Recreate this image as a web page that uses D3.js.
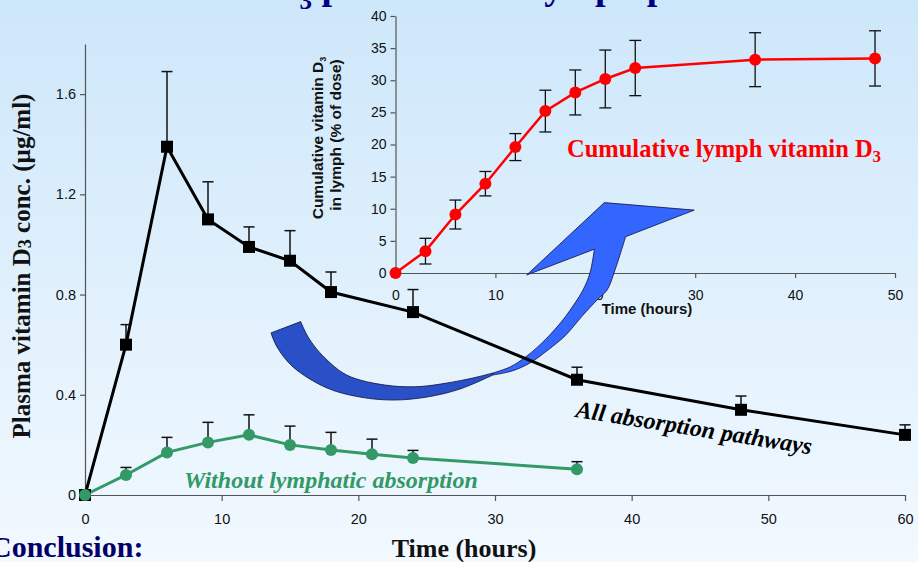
<!DOCTYPE html>
<html><head><meta charset="utf-8">
<script src="https://cdn.jsdelivr.net/npm/d3@7"></script>
<style>html,body{margin:0;padding:0;overflow:hidden;background:#e2f1fd}</style>
</head><body>
<svg id="c" width="918" height="562"></svg>
<script>
// ---------------- data ----------------
const mainTimes = [0, 3, 6, 9, 12, 15, 18, 24, 36, 48, 60];
const allPathways = [0, 0.60, 1.39, 1.10, 0.99, 0.935, 0.81, 0.73, 0.46, 0.34, 0.24];
const allPathwaysErr = [0, 0.08, 0.30, 0.15, 0.08, 0.12, 0.08, 0.09, 0.05, 0.055, 0.04];

const noLymphTimes = [0, 3, 6, 9, 12, 15, 18, 21, 24, 36];
const noLymph = [0, 0.08, 0.17, 0.21, 0.24, 0.20, 0.18, 0.163, 0.148, 0.103];
const noLymphErr = [0, 0.03, 0.06, 0.08, 0.08, 0.075, 0.07, 0.06, 0.03, 0.03];

const lymphTimes = [0, 3, 6, 9, 12, 15, 18, 21, 24, 36, 48];
const lymphCum = [0, 3.4, 9.1, 13.9, 19.6, 25.2, 28.1, 30.2, 31.9, 33.2, 33.4];
const lymphErr = [0, 2.0, 2.25, 1.9, 2.1, 3.25, 3.5, 4.5, 4.3, 4.2, 4.3];

const mainXTicks = [0, 10, 20, 30, 40, 50, 60];
const mainYTicks = [0, 0.4, 0.8, 1.2, 1.6];
const insetXTicks = [0, 10, 20, 30, 40, 50];
const insetYTicks = [0, 5, 10, 15, 20, 25, 30, 35, 40];

// curved block arrow outline, in main-chart units (hours, µg/ml)
const arrowBackUpper = [[15.78,0.692],[16.32,0.631],[17.20,0.567],[18.88,0.487],[20.12,0.459],[22.54,0.435],[24.51,0.433],[26.49,0.447],[28.39,0.467],[29.85,0.487]];
const arrowBackLower = [[13.61,0.647],[14.05,0.591],[15.22,0.511],[17.71,0.427],[20.12,0.391],[22.54,0.379],[25.02,0.391],[27.44,0.423],[29.85,0.479]];
const arrowFrontLeft = [[29.85,0.487],[31.10,0.511],[32.34,0.555],[33.66,0.619],[34.90,0.694],[35.85,0.766],[36.44,0.818],[36.95,0.886],[37.27,0.981]];
const arrowFrontRight = [[29.85,0.479],[31.24,0.495],[32.56,0.527],[33.88,0.579],[35.12,0.635],[36.44,0.718],[37.46,0.778],[38.20,0.818],[38.78,0.898],[39.56,1.031]];
const arrowHead = [[32.32,0.878],[38.00,1.167],[44.58,1.137]];

// ---------------- drawing ----------------
const W = 918, H = 562;
const SERIF = "'Liberation Serif','Times New Roman',serif";
const SANS = "'Liberation Sans',Arial,sans-serif";
const svg = d3.select('#c');
const defs = svg.append('defs');
const grad = defs.append('linearGradient').attr('id','bg').attr('x1',0).attr('y1',0).attr('x2',0).attr('y2',1);
grad.append('stop').attr('offset','0%').attr('stop-color','#cde7fa');
grad.append('stop').attr('offset','100%').attr('stop-color','#f2f9ff');
svg.append('rect').attr('width',W).attr('height',H).attr('fill','url(#bg)');

// title (cut off at the top: only descenders show)
const title = svg.append('text').attr('x',131).attr('y',-1.5)
  .attr('font-family',SERIF).attr('font-weight','bold').attr('font-size',38).attr('fill','#000080');
title.append('tspan').text('Vitamin D');
title.append('tspan').attr('font-size',25).attr('dy',10.5).text('3');
title.append('tspan').attr('dy',-10.5).text(' passes to the lymph pool');

function styleAxis(sel, fs, col){
  sel.attr('font-family',SANS).attr('font-size',fs);
  sel.selectAll('path.domain').attr('stroke',col).attr('stroke-width',1.2);
  sel.selectAll('.tick line').attr('stroke',col).attr('stroke-width',1.2);
  sel.selectAll('.tick text').attr('fill','#111');
}

// ---------- inset ----------
const ix = d3.scaleLinear().domain([0,50]).range([395.5,895]);
const iy = d3.scaleLinear().domain([0,40]).range([273,16]);
const inset = svg.append('g');
inset.append('g').attr('transform',`translate(${ix(0)},0)`)
  .call(d3.axisLeft(iy).tickValues(insetYTicks).tickSize(5).tickSizeOuter(0).tickPadding(4))
  .call(s=>styleAxis(s,14,'#555'));
inset.append('g').attr('transform',`translate(0,${iy(0)})`)
  .call(d3.axisBottom(ix).tickValues(insetXTicks).tickSize(5).tickSizeOuter(0).tickPadding(12))
  .call(s=>styleAxis(s,14,'#555'));

const yl1 = inset.append('text').attr('transform','translate(323,138) rotate(-90)')
  .attr('text-anchor','middle').attr('font-family',SANS).attr('font-weight','bold').attr('font-size',15.5).attr('fill','#111');
yl1.append('tspan').text('Cumulative vitamin D');
yl1.append('tspan').attr('font-size',9).attr('dy',3).text('3');
inset.append('text').attr('transform','translate(341,135) rotate(-90)')
  .attr('text-anchor','middle').attr('font-family',SANS).attr('font-weight','bold').attr('font-size',15.5).attr('fill','#111')
  .text('in lymph (% of dose)');
inset.append('text').attr('x',647).attr('y',314).attr('text-anchor','middle')
  .attr('font-family',SANS).attr('font-weight','bold').attr('font-size',15).attr('fill','#111').text('Time (hours)');

const lymphPts = lymphTimes.map((t,i)=>({t, v:lymphCum[i], e:lymphErr[i]}));
const ebI = inset.append('g').attr('stroke','#111').attr('stroke-width',1.3);
lymphPts.filter(d=>d.e>0).forEach(d=>{
  const x = ix(d.t);
  ebI.append('line').attr('x1',x).attr('x2',x).attr('y1',iy(d.v-d.e)).attr('y2',iy(d.v+d.e));
  ebI.append('line').attr('x1',x-6).attr('x2',x+6).attr('y1',iy(d.v+d.e)).attr('y2',iy(d.v+d.e));
  ebI.append('line').attr('x1',x-6).attr('x2',x+6).attr('y1',iy(d.v-d.e)).attr('y2',iy(d.v-d.e));
});
inset.append('path').datum(lymphPts)
  .attr('d',d3.line().x(d=>ix(d.t)).y(d=>iy(d.v)))
  .attr('fill','none').attr('stroke','#ff0000').attr('stroke-width',2.5);
inset.selectAll('circle.l').data(lymphPts).join('circle')
  .attr('cx',d=>ix(d.t)).attr('cy',d=>iy(d.v)).attr('r',6).attr('fill','#ff0000');

const redLab = svg.append('text').attr('x',567).attr('y',157)
  .attr('font-family',SERIF).attr('font-weight','bold').attr('font-size',24.5).attr('fill','#ff0000');
redLab.append('tspan').text('Cumulative lymph vitamin D');
redLab.append('tspan').attr('font-size',17).attr('dy',5).text('3');

// ---------- main scales ----------
const mx = d3.scaleLinear().domain([0,60]).range([85,905]);
const my = d3.scaleLinear().domain([0,1.8]).range([495,44]);

// ---------- arrow ----------
const lc = d3.line().x(d=>mx(d[0])).y(d=>my(d[1])).curve(d3.curveCatmullRom.alpha(0.5));
const lin = pts => pts.map(p=>'L'+mx(p[0])+','+my(p[1])).join('');
const backD = lc(arrowBackUpper) + lc(arrowBackLower.slice().reverse()).replace(/^M/,'L') + 'Z';
const frontD = lc(arrowFrontLeft) + lin(arrowHead) + lc(arrowFrontRight.slice().reverse()).replace(/^M/,'L') + 'Z';
svg.append('path').attr('d',backD).attr('fill','#2a50c8').attr('stroke','#10103a').attr('stroke-width',0.8);
svg.append('path').attr('d',frontD).attr('fill','#3366ff').attr('stroke','#10103a').attr('stroke-width',0.8).attr('stroke-linejoin','miter');

// ---------- main axes ----------
const main = svg.append('g');
main.append('g').attr('transform',`translate(${mx(0)},0)`)
  .call(d3.axisLeft(my).tickValues(mainYTicks).tickSize(5).tickSizeOuter(0).tickPadding(4)
    .tickFormat(d=>d===0?'0':d.toFixed(1)))
  .call(s=>styleAxis(s,14.5,'#555'));
main.append('g').attr('transform',`translate(0,${my(0)})`)
  .call(d3.axisBottom(mx).tickValues(mainXTicks).tickSize(6).tickSizeOuter(0).tickPadding(13))
  .call(s=>styleAxis(s,14.5,'#555'));

const ylab = svg.append('text').attr('transform','translate(30,266) rotate(-90)').attr('text-anchor','middle')
  .attr('font-family',SERIF).attr('font-weight','bold').attr('font-size',25).attr('fill','#111');
ylab.append('tspan').text('Plasma vitamin D');
ylab.append('tspan').attr('font-size',18).attr('dy',1).text('3');
ylab.append('tspan').attr('dy',-1).text(' conc. (\u00b5g/ml)');

svg.append('text').attr('x',464).attr('y',557).attr('text-anchor','middle')
  .attr('font-family',SERIF).attr('font-weight','bold').attr('font-size',26).attr('fill','#111').text('Time (hours)');
svg.append('text').attr('x',-10).attr('y',557)
  .attr('font-family',SERIF).attr('font-weight','bold').attr('font-size',30).attr('fill','#000066').text('Conclusion:');

// ---------- main series ----------
const allPts = mainTimes.map((t,i)=>({t, v:allPathways[i], e:allPathwaysErr[i]}));
const noPts = noLymphTimes.map((t,i)=>({t, v:noLymph[i], e:noLymphErr[i]}));
const GREEN = '#339966';

function upBars(pts, col){
  const gg = main.append('g').attr('stroke',col).attr('stroke-width',1.5);
  pts.filter(d=>d.e>0).forEach(d=>{
    const x = mx(d.t);
    gg.append('line').attr('x1',x).attr('x2',x).attr('y1',my(d.v)).attr('y2',my(d.v+d.e));
    gg.append('line').attr('x1',x-5.5).attr('x2',x+5.5).attr('y1',my(d.v+d.e)).attr('y2',my(d.v+d.e));
  });
}
upBars(noPts,'#111');
upBars(allPts,'#111');

const ml = d3.line().x(d=>mx(d.t)).y(d=>my(d.v));
main.append('path').datum(noPts).attr('d',ml).attr('fill','none').attr('stroke',GREEN).attr('stroke-width',3);
main.append('path').datum(allPts).attr('d',ml).attr('fill','none').attr('stroke','#000').attr('stroke-width',3);

main.selectAll('circle.g').data(noPts).join('circle')
  .attr('cx',d=>mx(d.t)).attr('cy',d=>my(d.v)).attr('r',6).attr('fill',GREEN);
main.selectAll('rect.s').data(allPts).join('rect')
  .attr('x',d=>mx(d.t)-6).attr('y',d=>my(d.v)-6).attr('width',12).attr('height',12).attr('fill','#000');
// green marker at 0 drawn over the black square, as in the source
main.append('circle').datum(noPts[0]).attr('cx',d=>mx(d.t)).attr('cy',d=>my(d.v)).attr('r',6).attr('fill',GREEN);

svg.append('text').attr('x',184).attr('y',488)
  .attr('font-family',SERIF).attr('font-weight','bold').attr('font-style','italic').attr('font-size',24)
  .attr('fill',GREEN).text('Without lymphatic absorption');
svg.append('text').attr('transform','translate(575,417) rotate(9)')
  .attr('font-family',SERIF).attr('font-weight','bold').attr('font-style','italic').attr('font-size',24)
  .attr('fill','#000').text('All absorption pathways');
</script>
</body></html>
